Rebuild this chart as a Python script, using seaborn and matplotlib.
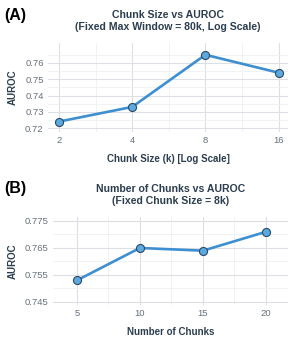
import numpy as np
import pandas as pd
import matplotlib
matplotlib.use("Agg")
import matplotlib.pyplot as plt
import seaborn as sns
from matplotlib.ticker import FixedLocator, NullFormatter

sns.set_theme(style="whitegrid")
plt.rcParams['font.family'] = ['Liberation Sans', 'DejaVu Sans']

# panel A data
chunk_size = [2, 4, 8, 16]
auroc_a = [0.724, 0.733, 0.765, 0.754]
# panel B data
n_chunks = [5, 10, 15, 20]
auroc_b = [0.753, 0.765, 0.764, 0.771]

df_a = pd.DataFrame({"chunk": chunk_size, "auroc": auroc_a})
df_b = pd.DataFrame({"n": n_chunks, "auroc": auroc_b})

line_col = "#3d8fd1"
mk_fill = "#5aaae0"
mk_edge = "#2c4a66"
txt_col = "#2c3e50"
tick_col = "#66707c"
grid_major = "#dcdfe4"
grid_minor = "#eef0f3"

fig = plt.figure(figsize=(3.01, 3.46), dpi=100)
ax1 = fig.add_axes([0.159, 0.618, 0.798, 0.258])
ax2 = fig.add_axes([0.176, 0.118, 0.781, 0.255])


def style(ax):
    for s in ax.spines.values():
        s.set_visible(False)
    ax.grid(True, which="major", color=grid_major, linewidth=0.8)
    ax.grid(True, which="minor", color=grid_minor, linewidth=0.6)
    ax.set_axisbelow(True)
    ax.tick_params(axis="both", which="both", length=0, labelsize=6.8,
                   labelcolor=tick_col, pad=3)
    ax.set_facecolor("white")


# (A)
sns.lineplot(data=df_a, x="chunk", y="auroc", ax=ax1, color=line_col,
             linewidth=1.9, marker="o", markersize=5.8,
             markerfacecolor=mk_fill, markeredgecolor=mk_edge, markeredgewidth=0.8)
ax1.set_xscale("log", base=2)
ax1.set_xlim(1.80, 17.5)
ax1.xaxis.set_major_locator(FixedLocator(chunk_size))
ax1.set_xticklabels([str(c) for c in chunk_size])
ax1.xaxis.set_minor_locator(FixedLocator([2 * np.sqrt(2), 4 * np.sqrt(2), 8 * np.sqrt(2)]))
ax1.xaxis.set_minor_formatter(NullFormatter())
ax1.set_ylim(0.7175, 0.7723)
ax1.set_yticks([0.72, 0.73, 0.74, 0.75, 0.76])
ax1.set_yticklabels(["0.72", "0.73", "0.74", "0.75", "0.76"])
ax1.yaxis.set_minor_locator(FixedLocator([0.715, 0.725, 0.735, 0.745, 0.755, 0.765, 0.775]))
style(ax1)
ax1.set_title("Chunk Size vs AUROC\n(Fixed Max Window = 80k, Log Scale)",
              fontsize=7.6, fontweight="bold", color=txt_col, pad=9, linespacing=1.25)
ax1.set_xlabel("Chunk Size (k) [Log Scale]", fontsize=7.0, fontweight="bold",
               color=txt_col, labelpad=6)
ax1.set_ylabel("AUROC", fontsize=7.0, fontweight="bold", color=txt_col, labelpad=5)

# (B)
sns.lineplot(data=df_b, x="n", y="auroc", ax=ax2, color=line_col,
             linewidth=1.9, marker="o", markersize=5.8,
             markerfacecolor=mk_fill, markeredgecolor=mk_edge, markeredgewidth=0.8)
ax2.set_xlim(3.1, 21.75)
ax2.set_xticks(n_chunks)
ax2.set_xticklabels([str(n) for n in n_chunks])
ax2.xaxis.set_minor_locator(FixedLocator([7.5, 12.5, 17.5]))
ax2.set_ylim(0.7438, 0.7765)
ax2.set_yticks([0.745, 0.755, 0.765, 0.775])
ax2.set_yticklabels(["0.745", "0.755", "0.765", "0.775"])
ax2.yaxis.set_minor_locator(FixedLocator([0.75, 0.76, 0.77]))
style(ax2)
ax2.set_title("Number of Chunks vs AUROC\n(Fixed Chunk Size = 8k)",
              fontsize=7.6, fontweight="bold", color=txt_col, pad=9, linespacing=1.25)
ax2.set_xlabel("Number of Chunks", fontsize=7.0, fontweight="bold",
               color=txt_col, labelpad=6)
ax2.set_ylabel("AUROC", fontsize=7.0, fontweight="bold", color=txt_col, labelpad=5)

fig.text(0.015, 0.955, "(A)", fontsize=11.5, fontweight="bold", color="black", va="center")
fig.text(0.015, 0.455, "(B)", fontsize=11.5, fontweight="bold", color="black", va="center")

fig.savefig("out.png", dpi=100, facecolor="white")
